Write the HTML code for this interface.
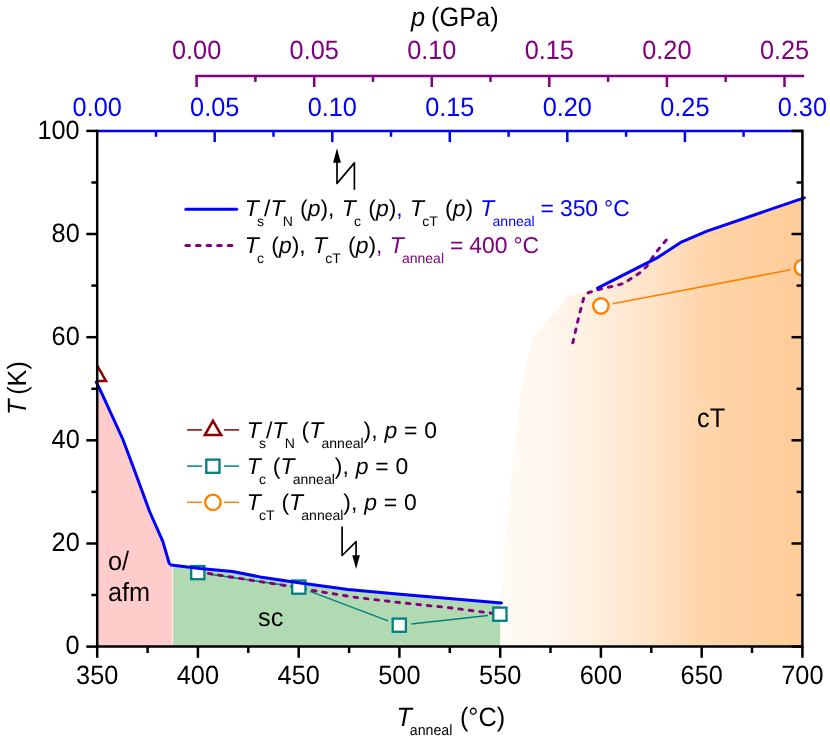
<!DOCTYPE html>
<html><head><meta charset="utf-8"><title>Phase diagram</title>
<style>html,body{margin:0;padding:0;background:#fff;}svg{display:block;will-change:transform;font-family:"Liberation Sans",sans-serif;}text{font-family:"Liberation Sans",sans-serif;text-rendering:geometricPrecision;}.i{font-style:italic;}</style></head><body>
<svg width="830" height="741" viewBox="0 0 830 741">
<defs><linearGradient id="g" gradientUnits="userSpaceOnUse" x1="500" y1="0" x2="803" y2="0"><stop offset="0.000" stop-color="#fffaf6"/><stop offset="0.165" stop-color="#fff6ee"/><stop offset="0.330" stop-color="#ffeedd"/><stop offset="0.512" stop-color="#ffe2c6"/><stop offset="0.660" stop-color="#ffd6ad"/><stop offset="0.825" stop-color="#ffd0a0"/><stop offset="1.000" stop-color="#ffcc99"/></linearGradient><clipPath id="cp"><rect x="97.2" y="130.9" width="705.2" height="515.7"/></clipPath></defs>
<rect width="830" height="741" fill="#fff"/>
<polygon points="97.2,646.6 97.2,382.5 102.5,394.9 122.7,439.0 133.8,468.5 149.6,511.5 162.7,541.1 169.3,563.5 172.4,565.0 172.4,646.6" fill="#ffcccc"/>
<polygon points="173.1,646.6 173.1,565.2 200.0,568.6 232.5,571.5 260.0,576.9 298.8,582.8 348.0,589.5 400.0,594.2 500.3,602.4 500.3,646.6" fill="#b2dab2"/>
<polygon points="500.3,646.6 504.0,550.0 511.9,470.0 521.8,386.0 532.6,337.5 568.2,296.2 597.6,288.2 658.0,257.3 681.8,241.8 707.0,231.1 802.4,198.1 802.4,646.6" fill="url(#g)"/>
<line x1="209.7" y1="574.3" x2="286.9" y2="585.4" stroke="#008080" stroke-width="1.5"/>
<line x1="310.0" y1="591.4" x2="388.1" y2="620.9" stroke="#008080" stroke-width="1.5"/>
<line x1="411.2" y1="623.9" x2="488.0" y2="615.5" stroke="#008080" stroke-width="1.5"/>
<polyline points="197.8,571.8 298.8,587.7 310.0,590.0 355.0,597.3 400.0,602.6 450.0,607.8 499.9,614.2" fill="none" stroke="#800080" stroke-width="2.9" stroke-dasharray="3.6 6.95" stroke-linecap="round" stroke-linejoin="round"/>
<polyline points="572.8,342.8 578.9,316.4 583.6,298.4 588.3,292.7 600.6,289.0 611.0,286.7 622.3,283.9 631.8,278.2 640.3,272.5 646.9,266.3 653.5,255.9 660.1,247.4 667.3,238.9" fill="none" stroke="#800080" stroke-width="2.9" stroke-dasharray="3.6 6.95" stroke-linecap="round" stroke-linejoin="round"/>
<rect x="191.2" y="566.0" width="13.2" height="13.2" fill="#fff" stroke="#008080" stroke-width="2.3"/>
<rect x="292.2" y="580.5" width="13.2" height="13.2" fill="#fff" stroke="#008080" stroke-width="2.3"/>
<rect x="392.7" y="618.6" width="13.2" height="13.2" fill="#fff" stroke="#008080" stroke-width="2.3"/>
<rect x="493.3" y="607.6" width="13.2" height="13.2" fill="#fff" stroke="#008080" stroke-width="2.3"/>
<line x1="612.7" y1="303.8" x2="790.6" y2="269.8" stroke="#ff8000" stroke-width="1.5"/>
<g clip-path="url(#cp)">
<circle cx="600.9" cy="306.0" r="7.7" fill="#fff" stroke="#ff8000" stroke-width="2.4"/>
<circle cx="802.4" cy="267.6" r="7.7" fill="#fff" stroke="#ff8000" stroke-width="2.4"/>
<polygon points="97.2,365.7 106.0,380.9 88.5,380.9" fill="#fff" stroke="#8b0000" stroke-width="2.5" stroke-linejoin="miter"/>
</g>
<polyline points="96.3,382.0 102.5,394.9 122.7,439.0 133.8,468.5 149.6,511.5 162.7,541.1 169.3,563.5" fill="none" stroke="#0000ff" stroke-width="3.0" stroke-linejoin="round" stroke-linecap="round"/>
<polyline points="171.1,565.0 200.0,568.6 232.5,571.5 260.0,576.9 298.8,582.8 348.0,589.5 400.0,594.2 501.4,602.9" fill="none" stroke="#0000ff" stroke-width="3.0" stroke-linejoin="round" stroke-linecap="round"/>
<polyline points="597.6,288.2 658.0,257.3 681.8,241.8 707.0,231.1 804.2,197.8" fill="none" stroke="#0000ff" stroke-width="3.0" stroke-linejoin="round" stroke-linecap="round"/>
<g stroke="#0000ff" stroke-width="2.5">
<line x1="97.2" y1="130.9" x2="802.4" y2="130.9"/>
<line x1="156.0" y1="130.9" x2="156.0" y2="136.8"/>
<line x1="214.7" y1="130.9" x2="214.7" y2="142.1"/>
<line x1="273.5" y1="130.9" x2="273.5" y2="136.8"/>
<line x1="332.3" y1="130.9" x2="332.3" y2="142.1"/>
<line x1="391.0" y1="130.9" x2="391.0" y2="136.8"/>
<line x1="449.8" y1="130.9" x2="449.8" y2="142.1"/>
<line x1="508.6" y1="130.9" x2="508.6" y2="136.8"/>
<line x1="567.3" y1="130.9" x2="567.3" y2="142.1"/>
<line x1="626.1" y1="130.9" x2="626.1" y2="136.8"/>
<line x1="684.9" y1="130.9" x2="684.9" y2="142.1"/>
<line x1="743.6" y1="130.9" x2="743.6" y2="136.8"/>
</g>
<g stroke="#800080" stroke-width="2.5">
<line x1="195.3" y1="76.1" x2="804.2" y2="76.1"/>
<line x1="196.6" y1="76.1" x2="196.6" y2="87.0"/>
<line x1="255.4" y1="76.1" x2="255.4" y2="81.9"/>
<line x1="314.2" y1="76.1" x2="314.2" y2="87.0"/>
<line x1="373.0" y1="76.1" x2="373.0" y2="81.9"/>
<line x1="431.8" y1="76.1" x2="431.8" y2="87.0"/>
<line x1="490.5" y1="76.1" x2="490.5" y2="81.9"/>
<line x1="549.3" y1="76.1" x2="549.3" y2="87.0"/>
<line x1="608.1" y1="76.1" x2="608.1" y2="81.9"/>
<line x1="666.9" y1="76.1" x2="666.9" y2="87.0"/>
<line x1="725.7" y1="76.1" x2="725.7" y2="81.9"/>
<line x1="784.5" y1="76.1" x2="784.5" y2="87.0"/>
</g>
<g stroke="#000" stroke-width="2.5">
<line x1="97.2" y1="129.7" x2="97.2" y2="647.9"/>
<line x1="802.4" y1="129.7" x2="802.4" y2="647.9"/>
<line x1="97.2" y1="646.6" x2="802.4" y2="646.6"/>
<line x1="86.3" y1="646.6" x2="97.2" y2="646.6"/>
<line x1="791.5" y1="646.6" x2="802.4" y2="646.6"/>
<line x1="91.4" y1="595.0" x2="97.2" y2="595.0"/>
<line x1="796.6" y1="595.0" x2="802.4" y2="595.0"/>
<line x1="86.3" y1="543.5" x2="97.2" y2="543.5"/>
<line x1="791.5" y1="543.5" x2="802.4" y2="543.5"/>
<line x1="91.4" y1="491.9" x2="97.2" y2="491.9"/>
<line x1="796.6" y1="491.9" x2="802.4" y2="491.9"/>
<line x1="86.3" y1="440.3" x2="97.2" y2="440.3"/>
<line x1="791.5" y1="440.3" x2="802.4" y2="440.3"/>
<line x1="91.4" y1="388.8" x2="97.2" y2="388.8"/>
<line x1="796.6" y1="388.8" x2="802.4" y2="388.8"/>
<line x1="86.3" y1="337.2" x2="97.2" y2="337.2"/>
<line x1="791.5" y1="337.2" x2="802.4" y2="337.2"/>
<line x1="91.4" y1="285.6" x2="97.2" y2="285.6"/>
<line x1="796.6" y1="285.6" x2="802.4" y2="285.6"/>
<line x1="86.3" y1="234.0" x2="97.2" y2="234.0"/>
<line x1="791.5" y1="234.0" x2="802.4" y2="234.0"/>
<line x1="91.4" y1="182.5" x2="97.2" y2="182.5"/>
<line x1="796.6" y1="182.5" x2="802.4" y2="182.5"/>
<line x1="86.3" y1="130.9" x2="97.2" y2="130.9"/>
<line x1="791.5" y1="130.9" x2="802.4" y2="130.9"/>
<line x1="97.2" y1="646.6" x2="97.2" y2="657.8"/>
<line x1="147.6" y1="646.6" x2="147.6" y2="653.0"/>
<line x1="197.9" y1="646.6" x2="197.9" y2="657.8"/>
<line x1="248.3" y1="646.6" x2="248.3" y2="653.0"/>
<line x1="298.7" y1="646.6" x2="298.7" y2="657.8"/>
<line x1="349.1" y1="646.6" x2="349.1" y2="653.0"/>
<line x1="399.4" y1="646.6" x2="399.4" y2="657.8"/>
<line x1="449.8" y1="646.6" x2="449.8" y2="653.0"/>
<line x1="500.2" y1="646.6" x2="500.2" y2="657.8"/>
<line x1="550.5" y1="646.6" x2="550.5" y2="653.0"/>
<line x1="600.9" y1="646.6" x2="600.9" y2="657.8"/>
<line x1="651.3" y1="646.6" x2="651.3" y2="653.0"/>
<line x1="701.7" y1="646.6" x2="701.7" y2="657.8"/>
<line x1="752.0" y1="646.6" x2="752.0" y2="653.0"/>
<line x1="802.4" y1="646.6" x2="802.4" y2="657.8"/>
</g>
<text transform="translate(97.2,684.1) scale(1,1.045)" font-size="25.3" fill="#000" text-anchor="middle">350</text>
<text transform="translate(197.9,684.1) scale(1,1.045)" font-size="25.3" fill="#000" text-anchor="middle">400</text>
<text transform="translate(298.7,684.1) scale(1,1.045)" font-size="25.3" fill="#000" text-anchor="middle">450</text>
<text transform="translate(399.4,684.1) scale(1,1.045)" font-size="25.3" fill="#000" text-anchor="middle">500</text>
<text transform="translate(500.2,684.1) scale(1,1.045)" font-size="25.3" fill="#000" text-anchor="middle">550</text>
<text transform="translate(600.9,684.1) scale(1,1.045)" font-size="25.3" fill="#000" text-anchor="middle">600</text>
<text transform="translate(701.7,684.1) scale(1,1.045)" font-size="25.3" fill="#000" text-anchor="middle">650</text>
<text transform="translate(802.4,684.1) scale(1,1.045)" font-size="25.3" fill="#000" text-anchor="middle">700</text>
<text transform="translate(79.7,654.3) scale(1,1.045)" font-size="25.3" fill="#000" text-anchor="end">0</text>
<text transform="translate(79.7,551.2) scale(1,1.045)" font-size="25.3" fill="#000" text-anchor="end">20</text>
<text transform="translate(79.7,448.0) scale(1,1.045)" font-size="25.3" fill="#000" text-anchor="end">40</text>
<text transform="translate(79.7,344.9) scale(1,1.045)" font-size="25.3" fill="#000" text-anchor="end">60</text>
<text transform="translate(79.7,241.7) scale(1,1.045)" font-size="25.3" fill="#000" text-anchor="end">80</text>
<text transform="translate(79.7,138.6) scale(1,1.045)" font-size="25.3" fill="#000" text-anchor="end">100</text>
<text transform="translate(97.2,116.3) scale(1,1.045)" font-size="25.3" fill="#0000ff" text-anchor="middle">0.00</text>
<text transform="translate(214.7,116.3) scale(1,1.045)" font-size="25.3" fill="#0000ff" text-anchor="middle">0.05</text>
<text transform="translate(332.3,116.3) scale(1,1.045)" font-size="25.3" fill="#0000ff" text-anchor="middle">0.10</text>
<text transform="translate(449.8,116.3) scale(1,1.045)" font-size="25.3" fill="#0000ff" text-anchor="middle">0.15</text>
<text transform="translate(567.3,116.3) scale(1,1.045)" font-size="25.3" fill="#0000ff" text-anchor="middle">0.20</text>
<text transform="translate(684.9,116.3) scale(1,1.045)" font-size="25.3" fill="#0000ff" text-anchor="middle">0.25</text>
<text transform="translate(802.4,116.3) scale(1,1.045)" font-size="25.3" fill="#0000ff" text-anchor="middle">0.30</text>
<text transform="translate(196.6,58.8) scale(1,1.045)" font-size="25.3" fill="#800080" text-anchor="middle">0.00</text>
<text transform="translate(314.2,58.8) scale(1,1.045)" font-size="25.3" fill="#800080" text-anchor="middle">0.05</text>
<text transform="translate(431.8,58.8) scale(1,1.045)" font-size="25.3" fill="#800080" text-anchor="middle">0.10</text>
<text transform="translate(549.3,58.8) scale(1,1.045)" font-size="25.3" fill="#800080" text-anchor="middle">0.15</text>
<text transform="translate(666.9,58.8) scale(1,1.045)" font-size="25.3" fill="#800080" text-anchor="middle">0.20</text>
<text transform="translate(784.5,58.8) scale(1,1.045)" font-size="25.3" fill="#800080" text-anchor="middle">0.25</text>
<text transform="translate(411.0,25.9) scale(1,1.045)" word-spacing="-1" font-size="25.3"><tspan class="i">p</tspan> (GPa)</text>
<text transform="translate(25.9,414.9) rotate(-90) scale(1,1.045)" word-spacing="-2.4" font-size="25.3"><tspan class="i">T</tspan> (K)</text>
<text transform="translate(396.6,726.2) scale(1,1.045)" word-spacing="0.5" font-size="25.3"><tspan class="i">T</tspan><tspan font-size="14.2" dx="-2.3" baseline-shift="-8.2">anneal</tspan> (°C)</text>
<text transform="translate(108,570.0) scale(1,1.045)" font-size="25.3">o/</text>
<text transform="translate(108,601.2) scale(1,1.045)" font-size="25.3">afm</text>
<text transform="translate(258,626.3) scale(1,1.02)" font-size="25.3">sc</text>
<text transform="translate(697,427.1) scale(1,1.06)" font-size="25.3">cT</text>
<line x1="185.9" y1="209.3" x2="236.6" y2="209.3" stroke="#0000ff" stroke-width="3.1" stroke-linecap="round"/>
<line x1="185.9" y1="245.4" x2="232" y2="245.4" stroke="#800080" stroke-width="3.0" stroke-dasharray="3.55 7.05" stroke-linecap="round"/>
<text transform="translate(244.8,216.3)" word-spacing="0.9" font-size="22.9"><tspan class="i">T</tspan><tspan font-size="14.0" dx="-1.7" baseline-shift="-10.0">s</tspan>/<tspan class="i">T</tspan><tspan font-size="14.0" dx="-1.7" baseline-shift="-10.0">N</tspan> (<tspan class="i">p</tspan>), <tspan class="i">T</tspan><tspan font-size="14.0" dx="-1.7" baseline-shift="-10.0">c</tspan> (<tspan class="i">p</tspan>)<tspan fill="#0000ff">,</tspan> <tspan class="i">T</tspan><tspan font-size="14.0" dx="-1.7" baseline-shift="-10.0">cT</tspan> (<tspan class="i">p</tspan>) <tspan fill="#0000ff"><tspan class="i">T</tspan><tspan font-size="14.0" dx="-1.7" baseline-shift="-10.0">anneal</tspan><tspan word-spacing="-0.4"> = 350 °C</tspan></tspan></text>
<text transform="translate(244.8,252.7)" word-spacing="0.9" font-size="22.9"><tspan class="i">T</tspan><tspan font-size="14.0" dx="-1.7" baseline-shift="-10.0">c</tspan> (<tspan class="i">p</tspan>), <tspan class="i">T</tspan><tspan font-size="14.0" dx="-1.7" baseline-shift="-10.0">cT</tspan> (<tspan class="i">p</tspan>)<tspan fill="#800080">, <tspan class="i">T</tspan><tspan font-size="14.0" dx="-1.7" baseline-shift="-10.0">anneal</tspan><tspan word-spacing="-0.4"> = 400 °C</tspan></tspan></text>
<line x1="187.1" y1="429.9" x2="202" y2="429.9" stroke="#8b0000" stroke-width="1.5"/>
<line x1="223.9" y1="429.9" x2="239.1" y2="429.9" stroke="#8b0000" stroke-width="1.5"/>
<line x1="187.1" y1="466.1" x2="202" y2="466.1" stroke="#008080" stroke-width="1.5"/>
<line x1="223.9" y1="466.1" x2="239.1" y2="466.1" stroke="#008080" stroke-width="1.5"/>
<line x1="187.1" y1="502.3" x2="202" y2="502.3" stroke="#ff8000" stroke-width="1.5"/>
<line x1="223.9" y1="502.3" x2="239.1" y2="502.3" stroke="#ff8000" stroke-width="1.5"/>
<polygon points="213.0,420.8 221.2,435.1 204.8,435.1" fill="#fff" stroke="#8b0000" stroke-width="2.5" stroke-linejoin="miter"/>
<rect x="206.3" y="459.6" width="13.2" height="13.2" fill="#fff" stroke="#008080" stroke-width="2.3"/>
<circle cx="212.9" cy="502.3" r="7.7" fill="#fff" stroke="#ff8000" stroke-width="2.4"/>
<text transform="translate(246.7,437.8)" word-spacing="0.5" font-size="22.9"><tspan class="i">T</tspan><tspan font-size="14.0" dx="-1.7" baseline-shift="-10.0">s</tspan>/<tspan class="i">T</tspan><tspan font-size="14.0" dx="-1.7" baseline-shift="-10.0">N</tspan> (<tspan class="i">T</tspan><tspan font-size="14.0" dx="-1.7" baseline-shift="-10.0">anneal</tspan>), <tspan class="i">p</tspan> = 0</text>
<text transform="translate(246.7,473.9)" word-spacing="0.5" font-size="22.9"><tspan class="i">T</tspan><tspan font-size="14.0" dx="-1.7" baseline-shift="-10.0">c</tspan> (<tspan class="i">T</tspan><tspan font-size="14.0" dx="-1.7" baseline-shift="-10.0">anneal</tspan>), <tspan class="i">p</tspan> = 0</text>
<text transform="translate(246.7,510.3)" word-spacing="0.5" font-size="22.9"><tspan class="i">T</tspan><tspan font-size="14.0" dx="-1.7" baseline-shift="-10.0">cT</tspan> (<tspan class="i">T</tspan><tspan font-size="14.0" dx="-1.7" baseline-shift="-10.0">anneal</tspan>), <tspan class="i">p</tspan> = 0</text>
<g stroke="#000" stroke-width="1.7" fill="none" stroke-linejoin="round">
<polyline points="337.0,161 337.0,183.4 354.4,162.9 354.4,189.8"/>
<polyline points="342.1,526.4 342.1,555.5 356.1,541.6 356.1,557"/>
</g>
<polygon points="337.0,148.3 340.9,162.8 333.1,162.8" fill="#000"/>
<polygon points="356.1,569.1 352.3,555.3 359.9,555.3" fill="#000"/>
</svg></body></html>
